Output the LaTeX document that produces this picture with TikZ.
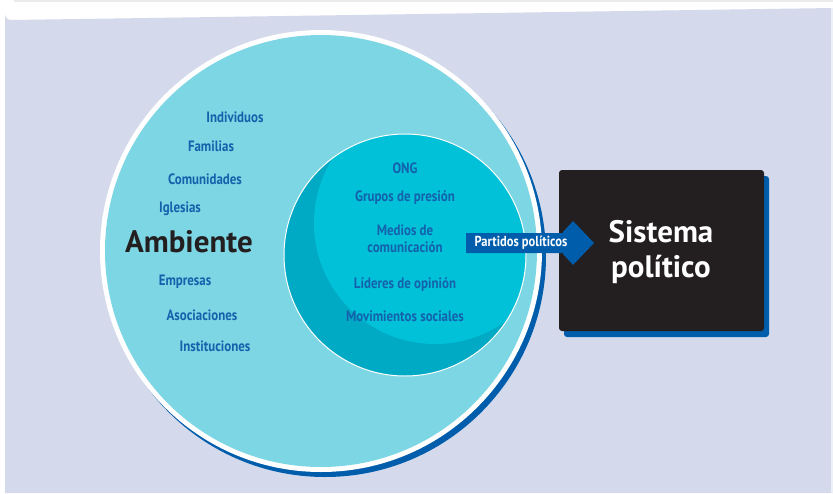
\documentclass[tikz,border=0pt]{standalone}
\usepackage{fontspec}
\setmainfont{PT Sans}
\newfontfamily\condbold[FakeStretch=0.86]{PT Sans Bold}
\newfontfamily\mainbold{PT Sans Bold}
\definecolor{bgpanel}{HTML}{D4DAEC}
\definecolor{ringfill}{HTML}{7DD6E3}
\definecolor{innerlight}{HTML}{00C1D8}
\definecolor{innerdark}{HTML}{00A9C4}
\definecolor{labelblue}{HTML}{1461AC}
\definecolor{deepblue}{HTML}{005DAB}
\definecolor{boxblack}{HTML}{231F20}
\tikzset{
  lbl/.style={font=\condbold\fontsize{15}{16}\selectfont, text=labelblue, inner sep=0pt, align=center},
  arrowlbl/.style={font=\condbold\fontsize{14.5}{15}\selectfont, text=white, inner sep=0pt},
  bigtitle/.style={font=\mainbold\fontsize{31}{35}\selectfont, text=white, align=center, inner sep=0pt},
  ambtitle/.style={font=\mainbold\fontsize{31}{33}\selectfont, text=boxblack, inner sep=0pt}
}
\begin{document}
\begin{tikzpicture}[x=1pt,y=-1pt]
\useasboundingbox (0,0) rectangle (833,493);
\fill[white] (0,0) rectangle (833,493);
\fill[black!8] (14,0) rectangle (833,2);
\fill[bgpanel] (5,493) -- (5,14) arc[start angle=180,end angle=90,radius=6] -- (833,8) -- (833,493) -- cycle;
\fill[white!60!bgpanel] (831,8) rectangle (833,493);
% big circle
\fill[deepblue] (325,256) circle[radius=221];
\fill[white] (321,251) circle[radius=221];
\fill[ringfill] (321,251) circle[radius=216];
% inner circle
\fill[innerdark] (405,255) circle[radius=121];
\begin{scope}
\clip (405,255) circle[radius=121];
\fill[innerlight] (435,223) circle[radius=121];
\end{scope}
\draw[white, line width=1] (405,255) circle[radius=121];
% system box
\fill[deepblue, rounded corners=3] (564,176) rectangle (769,337);
\fill[boxblack, rounded corners=3] (559,170) rectangle (764,331);
\node[bigtitle] (sis) at (661,252) {Sistema\\político};
% arrow
\fill[deepblue] (466,233) -- (563,233) -- (563,232) -- (573,221) -- (594,243) -- (573,265) -- (563,254) -- (563,253) -- (466,253) -- cycle;
\node[arrowlbl] (pp) at (521,243) {Partidos políticos};
% outer labels
\node[ambtitle] (amb) at (189,242) {Ambiente};
\node[lbl] (ind) at (235,117) {Individuos};
\node[lbl] (fam) at (211,146) {Familias};
\node[lbl] (com) at (205,179) {Comunidades};
\node[lbl] (igl) at (180,209) {Iglesias};
\node[lbl] (emp) at (185,282) {Empresas};
\node[lbl] (aso) at (202,315) {Asociaciones};
\node[lbl] (ins) at (215,346) {Instituciones};
% inner labels
\node[lbl] (ong) at (405,168) {ONG};
\node[lbl] (gru) at (405,198) {Grupos de presión};
\node[lbl] (med) at (405,239) {Medios de\\[1pt]comunicación};
\node[lbl] (lid) at (405,285) {Líderes de opinión};
\node[lbl] (mov) at (405,316) {Movimientos sociales};
\end{tikzpicture}
\end{document}
